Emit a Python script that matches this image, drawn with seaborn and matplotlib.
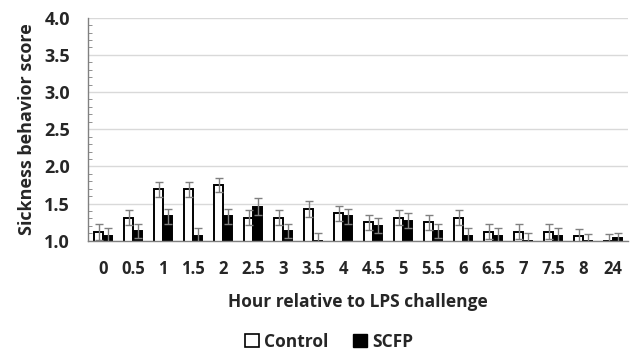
import numpy as np
import pandas as pd
import matplotlib
matplotlib.use("Agg")
import matplotlib.pyplot as plt
from matplotlib.patches import Patch
import seaborn as sns

hours = ["0", "0.5", "1", "1.5", "2", "2.5", "3", "3.5", "4", "4.5", "5",
         "5.5", "6", "6.5", "7", "7.5", "8", "24"]
control = [1.12, 1.31, 1.69, 1.69, 1.75, 1.31, 1.31, 1.43, 1.37, 1.25, 1.31,
           1.25, 1.31, 1.12, 1.12, 1.12, 1.06, 1.00]
control_err = [0.11, 0.10, 0.10, 0.10, 0.10, 0.10, 0.10, 0.11, 0.10, 0.10, 0.10,
               0.10, 0.10, 0.10, 0.10, 0.10, 0.10, 0.09]
scfp = [1.07, 1.13, 1.33, 1.07, 1.33, 1.46, 1.13, 1.00, 1.33, 1.20, 1.27,
        1.13, 1.07, 1.07, 1.00, 1.07, 1.00, 1.03]
scfp_err = [0.10, 0.10, 0.10, 0.10, 0.10, 0.11, 0.10, 0.10, 0.10, 0.10, 0.10,
            0.10, 0.10, 0.10, 0.10, 0.10, 0.09, 0.08]

df = pd.DataFrame({
    "hour": hours * 2,
    "score": control + scfp,
    "err": control_err + scfp_err,
    "group": ["Control"] * len(hours) + ["SCFP"] * len(hours),
})

sns.set_style("white")
plt.rcParams["font.family"] = ["Open Sans", "DejaVu Sans"]
plt.rcParams["font.weight"] = "bold"

fig, ax = plt.subplots(figsize=(6.39, 3.54), dpi=100)
fig.subplots_adjust(left=0.138, right=0.983, top=0.95, bottom=0.32)

sns.barplot(data=df, x="hour", y="score", hue="group", order=hours,
            hue_order=["Control", "SCFP"], palette={"Control": "white", "SCFP": "black"},
            width=0.6, edgecolor="black", linewidth=1.4, errorbar=None,
            legend=False, ax=ax, zorder=2)

# error bars from bar positions
for cont, errs in zip(ax.containers, [control_err, scfp_err]):
    xs = [p.get_x() + p.get_width() / 2 for p in cont.patches]
    ys = [p.get_height() for p in cont.patches]
    ax.errorbar(xs, ys, yerr=errs, fmt="none", ecolor="#808080",
                elinewidth=1, capsize=3, capthick=1, zorder=3)

ax.set_ylim(1.0, 4.0)
ax.set_xlim(-0.5, len(hours) - 0.5)
ax.set_yticks(np.arange(1.0, 4.01, 0.5))
ax.set_yticklabels([f"{v:.1f}" for v in np.arange(1.0, 4.01, 0.5)])
ax.set_yticks(np.arange(1.0, 4.01, 0.1), minor=True)
ax.yaxis.grid(True, color="#d9d9d9", linewidth=1, zorder=0)
ax.set_axisbelow(True)

ax.set_xticks(np.arange(0.5, len(hours) - 0.5, 1.0), minor=True)
ax.tick_params(axis="x", which="major", length=0, pad=14, labelsize=12)
ax.tick_params(axis="x", which="minor", length=8, direction="out", color="#808080", width=1)
ax.tick_params(axis="y", which="major", length=6, direction="inout", color="#808080",
               labelsize=13, pad=10)
ax.tick_params(axis="y", which="minor", length=3, direction="in", color="#808080", left=True)

for s in ["top", "right"]:
    ax.spines[s].set_visible(False)
for s in ["left", "bottom"]:
    ax.spines[s].set_color("#808080")
    ax.spines[s].set_linewidth(1)

ax.set_xlabel("Hour relative to LPS challenge", fontsize=12.5, fontweight="bold", labelpad=11)
ax.set_ylabel("Sickness behavior score", fontsize=13, fontweight="bold", labelpad=6)

handles = [Patch(facecolor="white", edgecolor="black", linewidth=1.2, label="Control"),
           Patch(facecolor="black", edgecolor="black", label="SCFP")]
fig.legend(handles=handles, loc="lower center", bbox_to_anchor=(0.515, -0.035), ncol=2,
           frameon=False, fontsize=12.5, handlelength=0.8, handleheight=0.8,
           handletextpad=0.3, columnspacing=1.4)

fig.savefig("out.png", dpi=100)
